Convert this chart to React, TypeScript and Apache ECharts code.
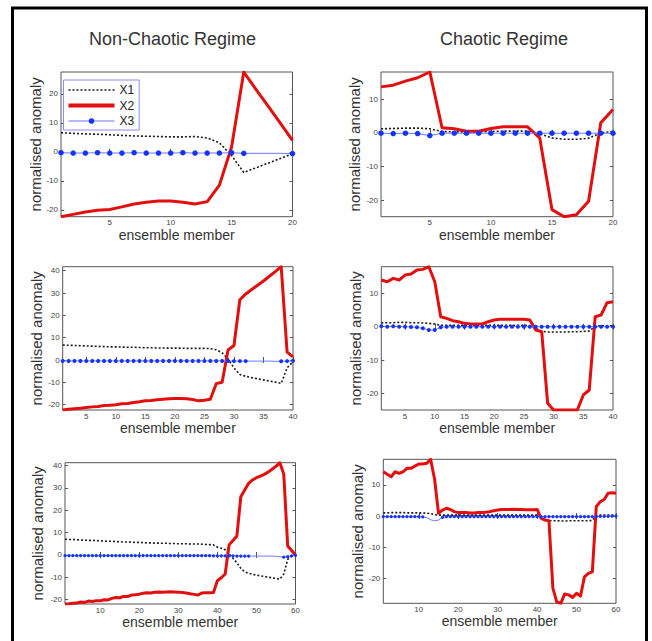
import React, { useEffect, useRef } from "react";
import * as echarts from "echarts";

const FONT = '"Liberation Sans", Arial, Helvetica, sans-serif';

// Column titles
const TITLES = ["Non-Chaotic Regime", "Chaotic Regime"];
const SERIES_NAMES = ["X1", "X2", "X3"];
const X_NAME = "ensemble member";
const Y_NAME = "normalised anomaly";

// ---- Non-chaotic regime, 20 members ----
const X1_NC20 = [6.6, 6.4, 6.2, 6.1, 5.9, 5.7, 5.5, 5.4, 5.3, 5.2, 5.2, 5.3, 4.8, 3.1, -1.2, -7.1, -5.5, -3.9, -2.3, -0.6];
const X2_NC20 = [-22.4, -21.6, -20.8, -20.2, -19.9, -19.0, -18.0, -17.4, -17.0, -17.0, -17.4, -18.0, -17.2, -11.5, 1.7, 27.6, 21.6, 15.8, 9.9, 4.0];
const X3_NC20 = [-0.3, -0.4, -0.4, -0.3, -0.4, -0.4, -0.3, -0.4, -0.4, -0.4, -0.3, -0.4, -0.4, -0.4, -0.3, -0.5, -0.5, -0.5, -0.5, -0.6];
const X3_GAPS_NC20 = [17, 18, 19];

// ---- Chaotic regime, 20 members ----
const X1_C20 = [1.2, 1.3, 1.4, 1.4, 1.2, 0.4, 0.3, 0.3, 0.3, 0.4, 0.5, 0.5, 0.5, -0.3, -1.5, -1.9, -1.9, -1.6, 0.0, 0.4];
const X2_C20 = [13.6, 14.1, 15.3, 16.3, 18.0, 1.5, 1.2, 0.5, 0.5, 1.3, 1.8, 1.8, 1.8, -1.5, -22.7, -24.8, -24.2, -20.2, 3.0, 6.9];
const X3_C20 = [-0.1, -0.2, -0.1, -0.2, -0.8, -0.1, -0.1, -0.1, -0.1, -0.1, -0.1, -0.1, -0.1, -0.1, -0.1, -0.1, -0.1, -0.1, -0.1, -0.1];
const X3_GAPS_C20: number[] = [];

// ---- Non-chaotic regime, 40 members ----
const X1_NC40 = [6.7, 6.6, 6.5, 6.4, 6.3, 6.2, 6.1, 6.0, 5.9, 5.9, 5.8, 5.7, 5.7, 5.6, 5.5, 5.5, 5.4, 5.4, 5.3, 5.3, 5.3, 5.2, 5.2, 5.2, 5.2, 5.1, 4.6, 3.2, 0.5, -3.5, -6.5, -7.3, -7.9, -8.4, -8.9, -9.4, -9.9, -10.5, -3.5, -0.8];
const X2_NC40 = [-22.4, -22.1, -21.8, -21.6, -21.3, -21.0, -20.8, -20.4, -20.3, -20.0, -19.6, -19.5, -19.0, -18.7, -18.3, -18.1, -17.8, -17.6, -17.4, -17.3, -17.3, -17.4, -17.7, -18.3, -18.0, -17.6, -10.6, -10.0, 4.5, 6.5, 27.0, 29.6, 31.6, 33.5, 35.4, 37.5, 39.6, 41.8, 3.5, 1.4];
const X3_NC40 = [-0.4, -0.4, -0.4, -0.4, -0.4, -0.4, -0.4, -0.4, -0.4, -0.4, -0.4, -0.4, -0.4, -0.4, -0.4, -0.4, -0.4, -0.4, -0.4, -0.4, -0.4, -0.4, -0.4, -0.4, -0.4, -0.4, -0.4, -0.4, -0.4, -0.5, -0.5, -0.5, -0.5, -0.5, -0.5, -0.5, -0.6, -0.6, -0.5, -0.3];
const X3_GAPS_NC40 = [33, 34, 35, 36, 37];

// ---- Chaotic regime, 40 members ----
const X1_C40 = [1.1, 1.2, 1.2, 1.3, 1.3, 1.2, 1.2, 1.1, 1.0, 0.8, 0.4, 0.4, 0.4, 0.4, 0.4, 0.4, 0.4, 0.4, 0.4, 0.4, 0.4, 0.4, 0.4, 0.4, 0.4, 0.3, -0.5, -1.4, -1.6, -1.6, -1.6, -1.6, -1.5, -1.5, -1.4, -1.3, 0.1, 0.3, 0.3, 0.3];
const X2_C40 = [14.0, 13.5, 14.5, 14.0, 15.5, 15.8, 17.0, 17.2, 18.0, 13.5, 3.0, 2.5, 1.8, 1.5, 1.0, 0.8, 0.8, 0.8, 1.5, 2.0, 2.2, 2.2, 2.2, 2.2, 2.2, 2.0, -1.0, -1.5, -23.0, -25.0, -25.0, -25.0, -25.0, -25.0, -20.5, -19.0, 3.0, 3.5, 7.2, 7.5];
const X3_C40 = [0.1, 0.0, 0.1, 0.0, 0.0, -0.1, -0.2, -0.5, -1.0, -1.0, -0.2, 0.0, 0.0, 0.0, 0.0, 0.0, 0.0, 0.0, 0.0, 0.0, 0.0, 0.0, 0.0, 0.0, 0.0, 0.0, 0.0, 0.0, 0.0, 0.0, 0.0, 0.0, 0.0, 0.0, 0.0, 0.0, 0.0, 0.0, 0.0, 0.0];
const X3_GAPS_C40: number[] = [];

// ---- Non-chaotic regime, 60 members ----
const X1_NC60 = [7.0, 6.9, 6.9, 6.8, 6.7, 6.6, 6.5, 6.5, 6.4, 6.3, 6.2, 6.1, 6.1, 6.0, 5.9, 5.8, 5.8, 5.7, 5.6, 5.6, 5.5, 5.4, 5.4, 5.3, 5.3, 5.2, 5.2, 5.1, 5.1, 5.0, 5.0, 5.0, 4.9, 4.9, 4.9, 4.8, 4.7, 4.6, 4.5, 3.5, 3.0, 2.3, 0.5, -1.5, -3.5, -6.0, -7.5, -8.2, -8.6, -9.0, -9.3, -9.6, -9.9, -10.2, -10.5, -10.8, -8.5, -2.0, -0.5, 0.0];
const X2_NC60 = [-21.9, -21.8, -21.6, -21.5, -21.0, -21.2, -20.6, -20.8, -20.4, -20.5, -20.0, -20.1, -19.4, -19.0, -19.1, -18.5, -18.6, -17.9, -17.8, -17.5, -17.1, -16.9, -17.0, -16.6, -16.5, -16.6, -16.5, -16.4, -16.5, -16.6, -16.8, -17.0, -17.3, -17.6, -17.9, -17.0, -16.9, -16.9, -16.8, -11.5, -10.2, -8.5, 4.5, 6.5, 8.5, 26.0, 29.0, 32.0, 33.5, 34.5, 35.2, 36.0, 37.0, 38.3, 39.6, 41.2, 36.0, 4.0, 2.0, 0.0];
const X3_NC60 = [-0.3, -0.3, -0.3, -0.3, -0.3, -0.3, -0.3, -0.3, -0.3, -0.3, -0.3, -0.3, -0.3, -0.3, -0.3, -0.3, -0.3, -0.3, -0.3, -0.3, -0.3, -0.3, -0.3, -0.3, -0.3, -0.3, -0.3, -0.3, -0.3, -0.3, -0.3, -0.3, -0.3, -0.3, -0.3, -0.3, -0.3, -0.3, -0.4, -0.4, -0.4, -0.4, -0.4, -0.4, -0.5, -0.5, -0.5, -0.5, -0.5, -0.5, -0.5, -0.5, -0.5, -0.5, -0.6, -0.8, -1.0, -0.8, -0.4, -0.2];
const X3_GAPS_NC60 = [49, 50, 51, 52, 53, 54, 55, 56];

// ---- Chaotic regime, 60 members ----
const X1_C60 = [1.0, 1.0, 1.1, 1.1, 1.1, 1.1, 1.0, 1.0, 1.0, 1.0, 1.0, 0.9, 0.8, 0.4, 0.3, 0.3, 0.3, 0.3, 0.3, 0.3, 0.3, 0.3, 0.3, 0.3, 0.3, 0.3, 0.3, 0.3, 0.3, 0.3, 0.3, 0.3, 0.3, 0.3, 0.3, 0.3, 0.3, 0.3, 0.3, 0.3, -0.4, -1.3, -1.5, -1.5, -1.5, -1.6, -1.6, -1.5, -1.5, -1.5, -1.5, -1.5, -1.5, -1.4, 0.0, 0.3, 0.3, 0.3, 0.3, 0.3];
const X2_C60 = [14.2, 13.4, 12.6, 14.2, 13.7, 14.2, 15.3, 15.3, 16.0, 16.7, 16.7, 16.9, 18.2, 11.8, 0.9, 1.9, 2.5, 2.1, 1.4, 1.1, 1.1, 1.1, 1.0, 1.0, 1.1, 1.1, 1.2, 1.4, 1.7, 1.9, 2.1, 2.1, 2.1, 2.2, 2.1, 2.1, 2.0, 2.0, 2.0, 2.1, -0.7, -1.3, -1.5, -23.2, -27.6, -28.0, -25.0, -25.3, -26.1, -24.8, -25.7, -19.5, -18.4, -17.9, 3.0, 4.6, 5.3, 7.3, 7.5, 7.3];
const X3_C60 = [-0.2, -0.2, -0.2, -0.2, -0.2, -0.2, -0.2, -0.2, -0.2, -0.2, -0.3, -0.5, -1.2, -1.5, -1.3, -0.4, -0.2, -0.2, -0.2, -0.2, -0.2, -0.2, -0.2, -0.2, -0.2, -0.2, -0.2, -0.2, -0.2, -0.2, -0.2, -0.2, -0.2, -0.2, -0.2, -0.2, -0.2, -0.2, -0.2, -0.2, -0.2, -0.2, -0.2, -0.2, -0.2, -0.2, -0.2, -0.2, -0.2, -0.2, -0.2, -0.2, -0.2, -0.2, -0.2, -0.1, -0.1, -0.1, 0.0, 0.0];
const X3_GAPS_C60 = [12, 13, 14, 15];

// Tick labels
const X_TICKS_20 = [5, 10, 15, 20];
const X_TICKS_40 = [5, 10, 15, 20, 25, 30, 35, 40];
const X_TICKS_60 = [10, 20, 30, 40, 50, 60];
const Y_TICKS_NC20 = [-20, -10, 0, 10, 20];
const Y_TICKS_C = [-20, -10, 0, 10];
const Y_TICKS_NC_WIDE = [-20, -10, 0, 10, 20, 30, 40];

const PANELS = [
  { x1: X1_NC20, x2: X2_NC20, x3: X3_NC20, gaps: X3_GAPS_NC20, xTicks: X_TICKS_20, yTicks: Y_TICKS_NC20, box: [61, 72, 231.5, 144.7], sym: 5.5, yGap: 18 },
  { x1: X1_C20, x2: X2_C20, x3: X3_C20, gaps: X3_GAPS_C20, xTicks: X_TICKS_20, yTicks: Y_TICKS_C, box: [381, 72, 232, 144.7], sym: 5.5, yGap: 19.5 },
  { x1: X1_NC40, x2: X2_NC40, x3: X3_NC40, gaps: X3_GAPS_NC40, xTicks: X_TICKS_40, yTicks: Y_TICKS_NC_WIDE, box: [62.7, 266.7, 230.3, 143.3], sym: 4, yGap: 18.2 },
  { x1: X1_C40, x2: X2_C40, x3: X3_C40, gaps: X3_GAPS_C40, xTicks: X_TICKS_40, yTicks: Y_TICKS_C, box: [381.3, 266.7, 231.7, 143.3], sym: 4, yGap: 16.5 },
  { x1: X1_NC60, x2: X2_NC60, x3: X3_NC60, gaps: X3_GAPS_NC60, xTicks: X_TICKS_60, yTicks: Y_TICKS_NC_WIDE, box: [65, 462.7, 230.5, 141.3], sym: 3.2, yGap: 20 },
  { x1: X1_C60, x2: X2_C60, x3: X3_C60, gaps: X3_GAPS_C60, xTicks: X_TICKS_60, yTicks: Y_TICKS_C, box: [383.3, 459.3, 232.7, 144], sym: 3.2, yGap: 18.5 },
];

const AXIS_COLOR = "#555";
const RED = "#e30e0e";
const BLUE_LINE = "#6b78ff";
const BLUE_DOT = "#1533ff";
const BLACK = "#1a1a1a";

function buildOption() {
  const grid: any[] = [];
  const xAxis: any[] = [];
  const yAxis: any[] = [];
  const series: any[] = [];

  PANELS.forEach((p, i) => {
    const n = p.x1.length;
    const all = [...p.x1, ...p.x2, ...p.x3];
    const yMin = Math.min(...all);
    const yMax = Math.max(...all);
    const [left, top, width, height] = p.box;
    grid.push({
      left, top, width, height,
      show: true,
      borderColor: AXIS_COLOR,
      borderWidth: 1,
      backgroundColor: "#fff",
      containLabel: false,
      outerBoundsMode: "none",
    });
    const tickStyle = { show: true, inside: true, length: 3, lineStyle: { color: AXIS_COLOR, width: 1 } };
    xAxis.push({
      gridIndex: i, type: "value", min: 1, max: n, position: "bottom",
      axisLine: { show: false },
      axisTick: { ...tickStyle, customValues: p.xTicks },
      axisLabel: { show: true, customValues: p.xTicks, fontSize: 8, color: "#444", margin: 2, fontFamily: FONT },
      splitLine: { show: false },
      name: X_NAME, nameLocation: "middle", nameGap: 10.5,
      nameTextStyle: { fontSize: 14, color: "#333", fontFamily: FONT },
    });
    xAxis.push({
      gridIndex: i, type: "value", min: 1, max: n, position: "top",
      axisLine: { show: false },
      axisTick: { ...tickStyle, customValues: p.xTicks },
      axisLabel: { show: false },
      splitLine: { show: false },
    });
    yAxis.push({
      gridIndex: i, type: "value", min: yMin, max: yMax, position: "left",
      axisLine: { show: false },
      axisTick: { ...tickStyle, customValues: p.yTicks },
      axisLabel: { show: true, customValues: p.yTicks, fontSize: 8, color: "#444", margin: 3, fontFamily: FONT },
      splitLine: { show: false },
      name: Y_NAME, nameLocation: "middle", nameGap: p.yGap, nameRotate: 90,
      nameTextStyle: { fontSize: 15, color: "#333", fontFamily: FONT },
    });
    yAxis.push({
      gridIndex: i, type: "value", min: yMin, max: yMax, position: "right",
      axisLine: { show: false },
      axisTick: { ...tickStyle, customValues: p.yTicks },
      axisLabel: { show: false },
      splitLine: { show: false },
    });
    const xi = i * 2;
    const yi = i * 2;
    series.push({
      name: SERIES_NAMES[0], type: "line", xAxisIndex: xi, yAxisIndex: yi,
      data: p.x1.map((v, k) => [k + 1, v]),
      symbol: "none", z: 2,
      lineStyle: { color: BLACK, width: 1.6, type: [2, 2] },
      itemStyle: { color: BLACK },
    });
    series.push({
      name: SERIES_NAMES[1], type: "line", xAxisIndex: xi, yAxisIndex: yi,
      data: p.x2.map((v, k) => [k + 1, v]),
      symbol: "none", z: 3,
      lineStyle: { color: RED, width: 3, join: "round" },
      itemStyle: { color: RED },
    });
    series.push({
      name: SERIES_NAMES[2], type: "line", xAxisIndex: xi, yAxisIndex: yi,
      data: p.x3.map((v, k) => {
        const item: any = { value: [k + 1, v] };
        if (p.gaps.includes(k + 1)) item.symbol = "none";
        return item;
      }),
      symbol: "circle", symbolSize: p.sym, showSymbol: true, showAllSymbol: true, z: 4,
      lineStyle: { color: BLUE_LINE, width: 1 },
      itemStyle: { color: BLUE_DOT },
    });
  });

  return {
    animation: false,
    backgroundColor: "#fff",
    textStyle: { fontFamily: FONT },
    title: [
      { text: TITLES[0], left: 172.5, top: 29.5, textAlign: "center", padding: 0, textStyle: { fontSize: 18, fontWeight: "normal", color: "#333", fontFamily: FONT } },
      { text: TITLES[1], left: 504, top: 29.5, textAlign: "center", padding: 0, textStyle: { fontSize: 18, fontWeight: "normal", color: "#333", fontFamily: FONT } },
    ],
    legend: {
      show: true,
      orient: "vertical",
      left: 63.5,
      top: 80,
      padding: [4, 5, 3, 3],
      itemWidth: 46,
      itemHeight: 7,
      itemGap: 3.5,
      borderColor: "#8a8aff",
      borderWidth: 1,
      backgroundColor: "#fff",
      selectedMode: false,
      textStyle: { fontSize: 12, color: "#222", fontFamily: FONT, lineHeight: 12 },
      data: [
        { name: SERIES_NAMES[0], itemStyle: { opacity: 0 }, lineStyle: { width: 1.5, type: [2, 2], color: BLACK } },
        { name: SERIES_NAMES[1], itemStyle: { opacity: 0 }, lineStyle: { width: 4, color: RED } },
        { name: SERIES_NAMES[2], itemStyle: { color: BLUE_DOT }, lineStyle: { width: 1, color: BLUE_LINE } },
      ],
      z: 10,
    },
    graphic: [
      {
        type: "rect",
        silent: true,
        shape: { x: 12.5, y: 8, width: 634, height: 660 },
        style: { fill: "none", stroke: "#000", lineWidth: 3 },
        z: 100,
      },
    ],
    grid,
    xAxis,
    yAxis,
    series,
  };
}

export default function App() {
  const ref = useRef<HTMLDivElement>(null);
  useEffect(() => {
    if (!ref.current) return;
    const chart = echarts.init(ref.current, undefined, { renderer: "svg" });
    chart.setOption(buildOption() as any);
    return () => {
      chart.dispose();
    };
  }, []);
  return (
    <div
      ref={ref}
      style={{ position: "fixed", left: 0, top: 0, width: 652, height: 641, background: "#fff" }}
    />
  );
}
